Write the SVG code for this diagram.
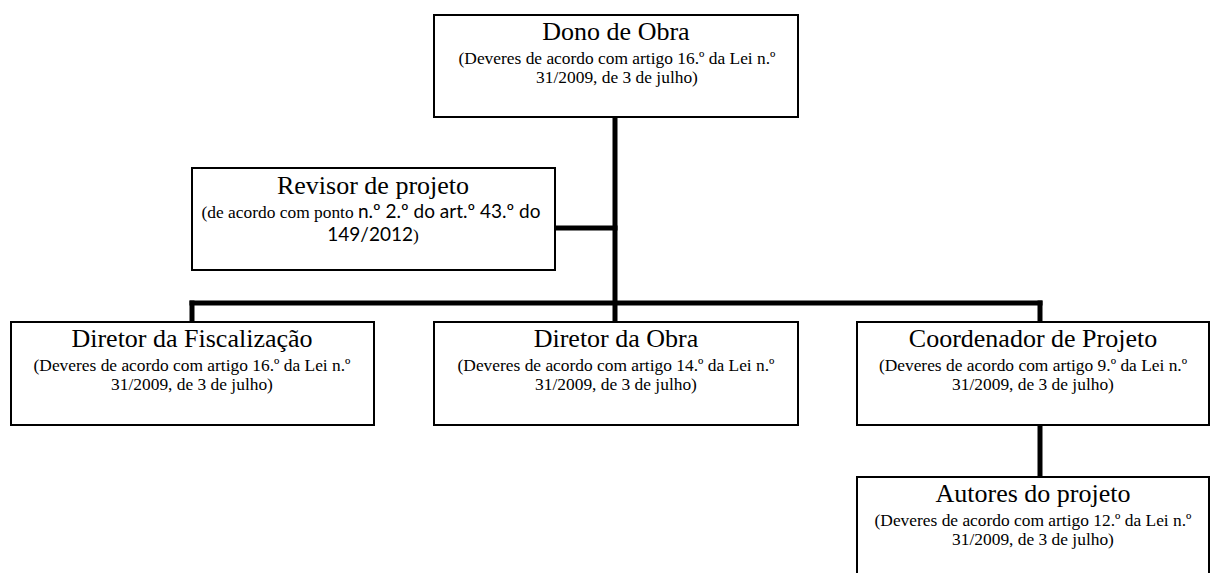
<svg xmlns="http://www.w3.org/2000/svg" width="1210" height="573" viewBox="0 0 1210 573">
  <style>
    .box { fill: #ffffff; stroke: #000000; stroke-width: 2; }
    .title { font-family: "Liberation Serif", serif; font-size: 26px; text-anchor: middle; fill: #000; }
    .sub { font-family: "Liberation Serif", serif; font-size: 17.4px; text-anchor: middle; fill: #000; }
    .sans { font-family: Lato, "Open Sans", sans-serif; font-size: 19px; }
    .link { stroke: #000000; stroke-width: 5; fill: none; stroke-linecap: square; }
  </style>
  <rect width="1210" height="573" fill="#ffffff"/>

  <!-- connectors -->
  <g id="connectors">
    <line class="link" x1="615" y1="118" x2="615" y2="320"/>
    <line class="link" x1="557" y1="228" x2="615" y2="228"/>
    <line class="link" x1="192" y1="303" x2="1040" y2="303"/>
    <line class="link" x1="192" y1="303" x2="192" y2="320"/>
    <line class="link" x1="1040" y1="303" x2="1040" y2="320"/>
    <line class="link" x1="1040" y1="427" x2="1040" y2="475"/>
  </g>

  <g id="dono-de-obra">
    <rect class="box" x="434" y="15" width="364" height="102"/>
    <text class="title" x="616" y="40">Dono de Obra</text>
    <text class="sub" x="617" y="64">(Deveres de acordo com artigo 16.º da Lei n.º</text>
    <text class="sub" x="617" y="83">31/2009, de 3 de julho)</text>
  </g>

  <g id="revisor-de-projeto">
    <rect class="box" x="192" y="168" width="363" height="102"/>
    <text class="title" x="373" y="194">Revisor de projeto</text>
    <text class="sub" x="371" y="218">(de acordo com ponto <tspan class="sans">n.º 2.º do art.º 43.º do</tspan></text>
    <text class="sub" x="373" y="241"><tspan class="sans">149/2012</tspan>)</text>
  </g>

  <g id="diretor-fiscalizacao">
    <rect class="box" x="11" y="322" width="363" height="103"/>
    <text class="title" x="192" y="347">Diretor da Fiscalização</text>
    <text class="sub" x="192" y="371">(Deveres de acordo com artigo 16.º da Lei n.º</text>
    <text class="sub" x="192" y="390">31/2009, de 3 de julho)</text>
  </g>

  <g id="diretor-obra">
    <rect class="box" x="434" y="322" width="364" height="103"/>
    <text class="title" x="616" y="347">Diretor da Obra</text>
    <text class="sub" x="616" y="371">(Deveres de acordo com artigo 14.º da Lei n.º</text>
    <text class="sub" x="616" y="390">31/2009, de 3 de julho)</text>
  </g>

  <g id="coordenador-projeto">
    <rect class="box" x="857" y="322" width="352" height="103"/>
    <text class="title" x="1033" y="347">Coordenador de Projeto</text>
    <text class="sub" x="1033" y="371">(Deveres de acordo com artigo 9.º da Lei n.º</text>
    <text class="sub" x="1033" y="390">31/2009, de 3 de julho)</text>
  </g>

  <g id="autores-projeto">
    <rect class="box" x="857" y="477" width="352" height="110"/>
    <text class="title" x="1033" y="502">Autores do projeto</text>
    <text class="sub" x="1033" y="526">(Deveres de acordo com artigo 12.º da Lei n.º</text>
    <text class="sub" x="1033" y="545">31/2009, de 3 de julho)</text>
  </g>
</svg>
